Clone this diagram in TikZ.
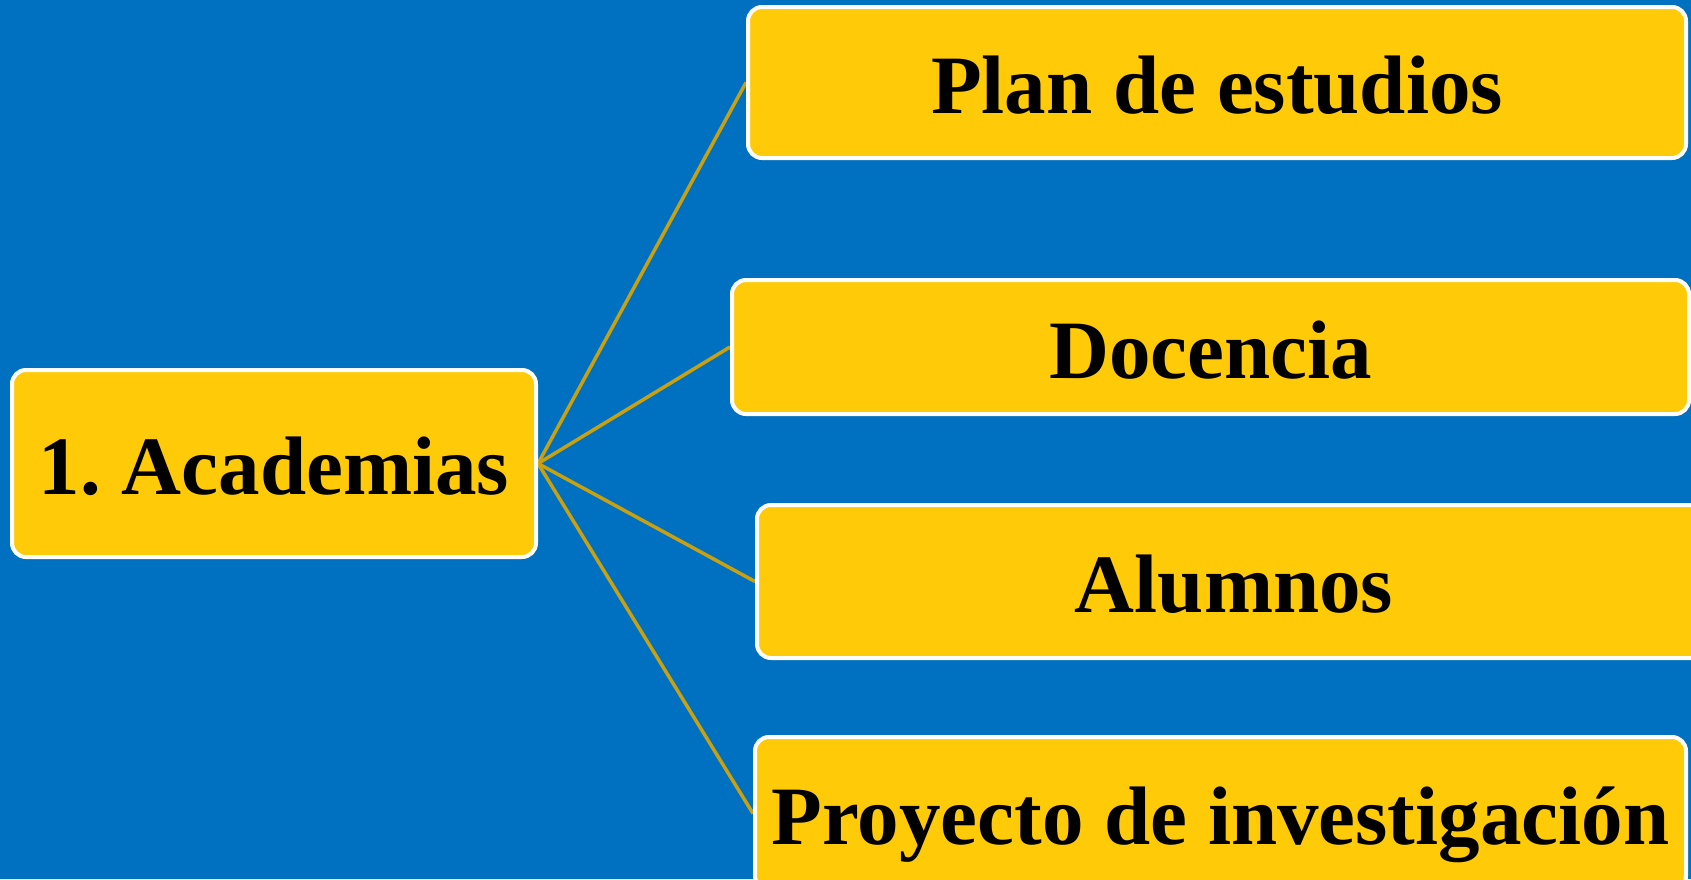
\documentclass[tikz,border=0pt]{standalone}
\usepackage{fontspec}
\setmainfont{Liberation Serif}
\definecolor{bgblue}{RGB}{0,112,192}
\definecolor{boxgold}{RGB}{255,202,8}
\definecolor{linegold}{RGB}{200,160,16}
\pgfdeclarelayer{conn}
\pgfsetlayers{conn,main}
\tikzset{
  gbox/.style={draw=white, line width=4pt, fill=boxgold, rounded corners=14pt,
    font=\fontsize{83}{90}\selectfont\bfseries, text=black,
    text height=62pt, text depth=0pt, inner sep=0pt, anchor=center},
  link/.style={draw=linegold, line width=3.5pt}
}
\begin{document}
\begin{tikzpicture}[x=1pt,y=-1pt]
\useasboundingbox (0,0) rectangle (1691,879);
\clip (0,0) rectangle (1691,879);
\begin{pgfonlayer}{conn}
\fill[bgblue] (0,0) rectangle (1691,879);
\end{pgfonlayer}
\node[gbox, minimum width=524pt, minimum height=187pt] (acad) at (274,463.5) {1.\ Academias};
\node[gbox, minimum width=938pt, minimum height=151pt] (plan) at (1217,82.5) {Plan de estudios};
\node[gbox, minimum width=957pt, minimum height=134pt] (doc) at (1210.5,347) {Docencia};
\node[gbox, minimum width=954pt, minimum height=153pt] (alum) at (1234,581.5) {Alumnos};
\node[gbox, minimum width=931pt, minimum height=153pt] (proy) at (1220.5,813.5) {Proyecto de investigación};
\begin{pgfonlayer}{conn}
\draw[link] (acad.east) -- (plan.west);
\draw[link] (acad.east) -- (doc.west);
\draw[link] (acad.east) -- (alum.west);
\draw[link] (acad.east) -- (proy.west);
\end{pgfonlayer}
\end{tikzpicture}
\end{document}
